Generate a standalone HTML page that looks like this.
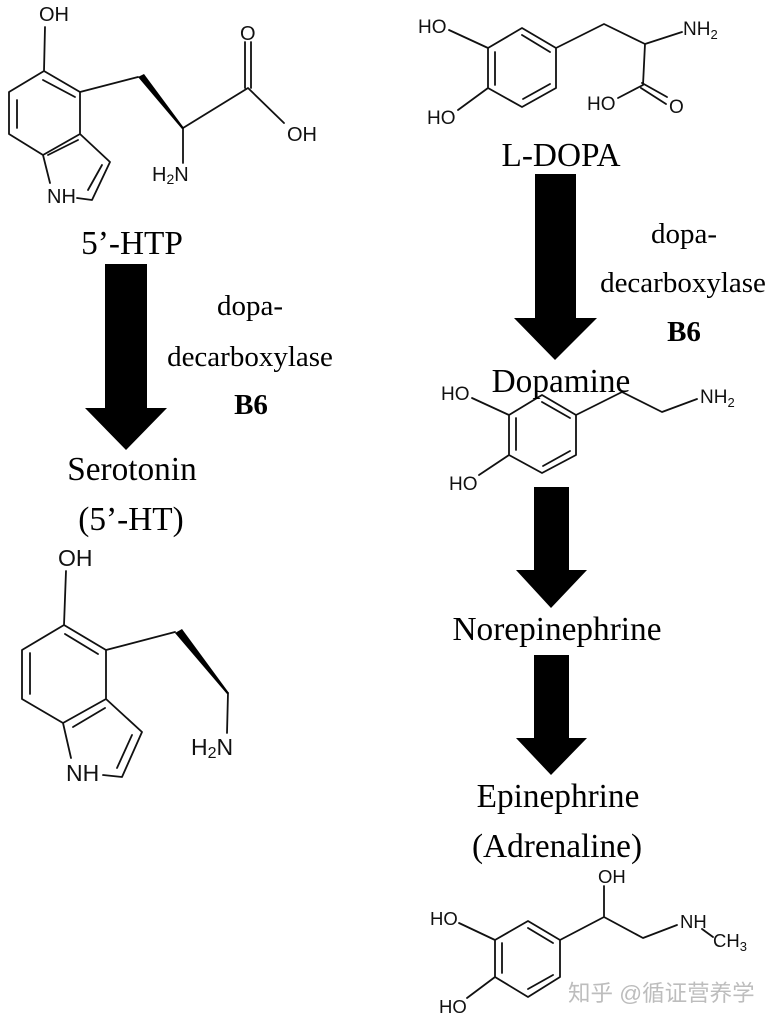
<!DOCTYPE html>
<html>
<head>
<meta charset="utf-8">
<style>
html,body{margin:0;padding:0;background:#fff;}
svg{display:block;}
.c{font-family:"Liberation Sans",sans-serif;fill:#111;}
.t{font-family:"Liberation Serif",serif;fill:#000;font-size:33.3px;text-anchor:middle;}
.s{font-family:"Liberation Serif",serif;fill:#000;font-size:29px;text-anchor:middle;}
.b{font-weight:bold;}
path.l{fill:none;stroke:#111;stroke-width:1.8;stroke-linejoin:round;stroke-linecap:round;}
</style>
</head>
<body>
<svg width="775" height="1024" viewBox="0 0 775 1024" xmlns="http://www.w3.org/2000/svg">
<rect width="775" height="1024" fill="#fff"/>

<!-- 5'-HTP -->
<path class="l" d="M45 27L44 71L80 92V134L43 155L9 134V92L44 71M43 80L75 97M17 100V128M48 155L78 140M80 134L110 162L92 200L77 198M102 165L88 190M43 155L50 183M80 92L138 77M183 128L248 88L284 123M183 128V163M245 42V88M251 42V88"/>
<polygon points="138,77 144,74 184,128 182,129" fill="#000"/>
<g class="c" font-size="20">
<text x="39" y="21">OH</text>
<text x="47" y="203">NH</text>
<text x="240" y="40">O</text>
<text x="287" y="141">OH</text>
<text x="152" y="181">H<tspan font-size="14" dy="3">2</tspan><tspan dy="-3">N</tspan></text>
</g>

<!-- L-DOPA -->
<path class="l" d="M449 30L488 48L522 28L556 48V88L522 107L488 88V48M495 52V85M522 35L550 52M523 99L550 84M556 48L604 24L645 44L682 32M645 44L643 85L618 98M642 83L667 97M641 88L666 104M488 88L458 110"/>
<g class="c" font-size="19">
<text x="418" y="33">HO</text>
<text x="427" y="124">HO</text>
<text x="587" y="110">HO</text>
<text x="669" y="113">O</text>
<text x="683" y="35">NH<tspan font-size="13" dy="4">2</tspan></text>
</g>

<!-- Serotonin molecule -->
<path class="l" d="M66 571L64 625L106 650V699L63 723L22 699V650L64 625M65 634L98 654M30 653V694M73 727L105 708M106 699L142 732L122 777L103 775M132 735L117 768M63 723L71 758M106 650L175 632M228 693L227 733"/>
<polygon points="175,633 182,629 229,693 227,694" fill="#000"/>
<g class="c" font-size="23">
<text x="58" y="566">OH</text>
<text x="66" y="781">NH</text>
<text x="191" y="755">H<tspan font-size="16" dy="3">2</tspan><tspan dy="-3">N</tspan></text>
</g>

<!-- Dopamine molecule -->
<path class="l" d="M472 398L509 415L542 395L576 415V455L542 473L509 455V415M516 418V450M542 402L570 418M543 466L570 451M576 415L622 392L662 412L697 399M509 455L479 475"/>
<g class="c" font-size="19">
<text x="441" y="400">HO</text>
<text x="449" y="490">HO</text>
<text x="700" y="403">NH<tspan font-size="13" dy="4">2</tspan></text>
</g>

<!-- Epinephrine molecule -->
<path class="l" d="M459 923L495 940L528 921L560 940V977L528 997L495 977V940M502 943V973M528 928L553 943M528 989L553 975M560 940L604 917L643 938L677 925M604 886V917M702 929L713 937M495 977L467 998"/>
<g class="c" font-size="18.5">
<text x="598" y="883">OH</text>
<text x="430" y="925">HO</text>
<text x="439" y="1013">HO</text>
<text x="680" y="928">NH</text>
<text x="713" y="947">CH<tspan font-size="13" dy="4">3</tspan></text>
</g>

<!-- Arrows -->
<polygon points="105,264 147,264 147,408 167,408 126,450 85,408 105,408" fill="#000"/>
<polygon points="535,174 576,174 576,318 597,318 555,360 514,318 535,318" fill="#000"/>
<polygon points="534,487 569,487 569,570 587,570 551,608 516,570 534,570" fill="#000"/>
<polygon points="534,655 569,655 569,738 587,738 551,775 516,738 534,738" fill="#000"/>

<!-- Labels -->
<text class="t" x="132" y="254">5’-HTP</text>
<text class="s" x="250" y="315">dopa-</text>
<text class="s" x="250" y="366">decarboxylase</text>
<text class="s b" x="251" y="414">B6</text>
<text class="t" x="132" y="480">Serotonin</text>
<text class="t" x="131" y="530">(5’-HT)</text>

<text class="t" x="561" y="166">L-DOPA</text>
<text class="s" x="684" y="243">dopa-</text>
<text class="s" x="683" y="292">decarboxylase</text>
<text class="s b" x="684" y="341">B6</text>
<text class="t" x="561" y="392">Dopamine</text>
<text class="t" x="557" y="640">Norepinephrine</text>
<text class="t" x="558" y="807">Epinephrine</text>
<text class="t" x="557" y="857">(Adrenaline)</text>

<!-- Watermark -->
<text x="568" y="1001" font-size="22.5" fill="#bdbdbd" font-family="'Liberation Sans','Noto Sans CJK SC',sans-serif">知乎 @循证营养学</text>
</svg>
</body>
</html>
